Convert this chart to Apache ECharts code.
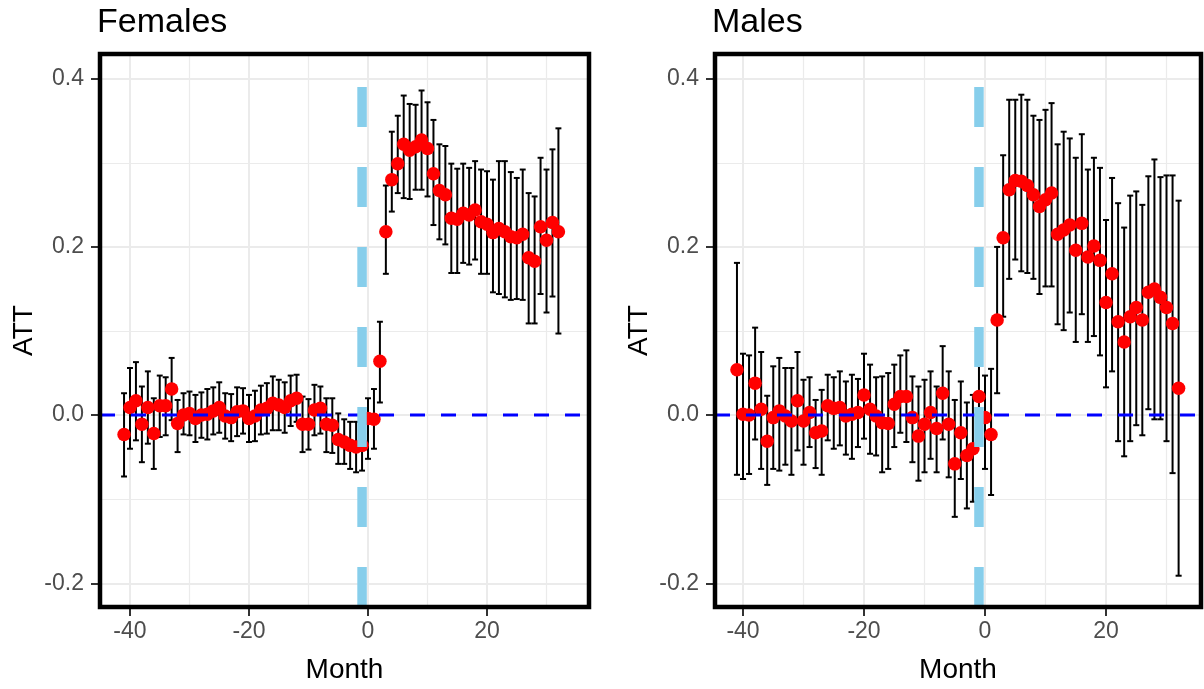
<!DOCTYPE html>
<html><head><meta charset="utf-8">
<script src="https://cdn.jsdelivr.net/npm/echarts@6/dist/echarts.min.js"></script>
<style>html,body{margin:0;padding:0;background:#fff}#c{width:1204px;height:689px}</style>
</head><body><div id="c"></div>
<script>
// ---- data ----
const months = [-41,-40,-39,-38,-37,-36,-35,-34,-33,-32,-31,-30,-29,-28,-27,-26,-25,-24,-23,-22,-21,-20,-19,-18,-17,-16,-15,-14,-13,-12,-11,-10,-9,-8,-7,-6,-5,-4,-3,-2,-1,
  0,1,2,3,4,5,6,7,8,9,10,11,12,13,14,15,16,17,18,19,20,21,22,23,24,25,26,27,28,29,30,31,32];

const femEst = [-0.023,0.009,0.017,-0.011,0.009,-0.022,0.011,0.011,0.031,-0.010,0.000,0.002,-0.004,0.000,0.001,0.005,0.009,-0.001,-0.003,0.004,0.005,-0.004,-0.001,0.006,0.008,0.014,0.012,0.009,0.017,0.020,-0.011,-0.011,0.006,0.008,-0.011,-0.012,-0.029,-0.032,-0.036,-0.038,-0.036,
  -0.004,-0.005,0.064,0.218,0.280,0.299,0.322,0.315,0.319,0.327,0.317,0.287,0.267,0.262,0.234,0.233,0.240,0.238,0.244,0.230,0.227,0.217,0.222,0.218,0.212,0.211,0.215,0.187,0.183,0.224,0.208,0.229,0.218];
const femLo = [-0.073,-0.040,-0.030,-0.056,-0.034,-0.064,-0.026,-0.024,-0.006,-0.044,-0.023,-0.024,-0.032,-0.027,-0.029,-0.023,-0.021,-0.028,-0.031,-0.025,-0.022,-0.032,-0.031,-0.023,-0.022,-0.018,-0.018,-0.021,-0.013,-0.008,-0.044,-0.041,-0.024,-0.022,-0.044,-0.045,-0.058,-0.058,-0.064,-0.068,-0.066,
  -0.052,-0.040,0.015,0.168,0.242,0.264,0.258,0.257,0.268,0.268,0.260,0.226,0.209,0.203,0.169,0.169,0.181,0.179,0.185,0.168,0.168,0.146,0.144,0.140,0.137,0.138,0.137,0.109,0.109,0.144,0.122,0.141,0.097];
const femHi = [0.026,0.056,0.063,0.034,0.052,0.020,0.047,0.045,0.068,0.018,0.026,0.028,0.024,0.027,0.031,0.033,0.039,0.026,0.025,0.033,0.032,0.024,0.029,0.035,0.038,0.046,0.042,0.039,0.047,0.048,0.022,0.019,0.036,0.034,0.020,0.020,0.002,-0.005,-0.008,-0.008,-0.006,
  0.020,0.031,0.111,0.273,0.337,0.356,0.380,0.370,0.369,0.386,0.372,0.351,0.322,0.320,0.299,0.293,0.299,0.294,0.302,0.292,0.290,0.280,0.302,0.302,0.289,0.282,0.292,0.264,0.260,0.306,0.292,0.316,0.341];

const maleEst = [0.054,0.001,0.000,0.038,0.007,-0.031,-0.003,0.005,-0.001,-0.007,0.017,-0.007,0.003,-0.021,-0.019,0.011,0.008,0.009,-0.001,0.001,0.003,0.024,0.007,-0.001,-0.009,-0.010,0.013,0.022,0.022,-0.003,-0.025,-0.011,0.003,-0.016,0.026,-0.011,-0.058,-0.021,-0.048,-0.040,0.022,
  -0.003,-0.023,0.113,0.211,0.268,0.279,0.278,0.273,0.262,0.248,0.256,0.264,0.215,0.220,0.226,0.196,0.228,0.188,0.201,0.184,0.134,0.168,0.111,0.087,0.117,0.128,0.113,0.146,0.150,0.140,0.128,0.109,0.032];
const maleLo = [-0.071,-0.076,-0.070,-0.029,-0.064,-0.083,-0.064,-0.066,-0.059,-0.071,-0.042,-0.059,-0.038,-0.063,-0.071,-0.030,-0.040,-0.036,-0.047,-0.052,-0.038,-0.028,-0.046,-0.048,-0.068,-0.064,-0.038,-0.021,-0.032,-0.056,-0.078,-0.068,-0.052,-0.068,-0.029,-0.074,-0.121,-0.076,-0.111,-0.103,-0.025,
  -0.064,-0.095,0.026,0.117,0.162,0.185,0.171,0.169,0.162,0.144,0.153,0.153,0.108,0.101,0.122,0.087,0.120,0.087,0.094,0.071,0.033,0.052,-0.031,-0.049,-0.031,-0.012,-0.024,0.007,-0.005,-0.005,-0.031,-0.069,-0.191];
const maleHi = [0.181,0.073,0.071,0.104,0.075,0.023,0.058,0.068,0.056,0.056,0.075,0.042,0.045,0.018,0.030,0.048,0.045,0.052,0.040,0.048,0.043,0.073,0.060,0.045,0.046,0.050,0.060,0.071,0.077,0.046,0.034,0.042,0.052,0.034,0.082,0.052,0.018,0.040,0.015,0.024,0.068,
  0.047,0.055,0.200,0.309,0.375,0.375,0.381,0.375,0.356,0.351,0.363,0.371,0.322,0.337,0.329,0.306,0.334,0.292,0.306,0.294,0.232,0.282,0.252,0.223,0.261,0.266,0.250,0.284,0.304,0.283,0.285,0.285,0.255];

const panelTitles = ['Females', 'Males'];
const xTicks = [-40, -20, 0, 20];
const yTicks = [-0.2, 0.0, 0.2, 0.4];
const zeroLevel = 0;
const treatMonth = -1;

// ---- layout / style ----
const FONT = '"Liberation Sans", Arial, sans-serif';
const yMin = -0.2282, yMax = 0.4294;
const panels = [
  { title: panelTitles[0], est: femEst, lo: femLo, hi: femHi, left: 100, width: 489, xMin: -45.04, xMax: 37.14, titleLeft: 92 },
  { title: panelTitles[1], est: maleEst, lo: maleLo, hi: maleHi, left: 715, width: 486, xMin: -44.63, xMax: 35.70, titleLeft: 707 }
];
const TOP = 54, HEIGHT = 559;

function near(list, v, eps) { return list.some(t => Math.abs(t - v) < eps); }

const option = {
  animation: false,
  backgroundColor: '#fff',
  title: [], grid: [], xAxis: [], yAxis: [], series: []
};

panels.forEach((p, i) => {
  option.title.push({
    text: p.title, left: p.titleLeft, top: 1,
    textStyle: { fontFamily: FONT, fontSize: 34, fontWeight: 'normal', color: '#000' }
  });
  option.grid.push({
    left: p.left, top: TOP, width: p.width, height: HEIGHT,
    show: true, z: 10, backgroundColor: 'transparent', borderColor: '#000', borderWidth: 4.5
  });
  option.xAxis.push({
    type: 'value', gridIndex: i, min: p.xMin, max: p.xMax, minInterval: 20, maxInterval: 20,
    axisLine: { show: true, onZero: false, lineStyle: { color: '#000', width: 1 } },
    axisTick: { show: true, length: 9, customValues: xTicks, lineStyle: { color: '#333', width: 2 } },
    axisLabel: {
      customValues: xTicks, margin: 13, color: '#4D4D4D', fontSize: 23, fontFamily: FONT,
      formatter: v => near(xTicks, v, 0.01) ? String(Math.round(v)) : ''
    },
    splitLine: { show: true, lineStyle: { color: '#EBEBEB', width: 2 } },
    minorTick: { show: false, splitNumber: 2 },
    minorSplitLine: { show: true, lineStyle: { color: '#EBEBEB', width: 1.2 } },
    name: 'Month', nameLocation: 'middle', nameGap: 49,
    nameTextStyle: { fontFamily: FONT, fontSize: 28, color: '#000' }
  });
  option.yAxis.push({
    type: 'value', gridIndex: i, min: yMin, max: yMax, minInterval: 0.2, maxInterval: 0.2,
    axisLine: { show: true, onZero: false, lineStyle: { color: '#000', width: 1 } },
    axisTick: { show: true, length: 9, customValues: yTicks, lineStyle: { color: '#333', width: 2 } },
    axisLabel: {
      customValues: yTicks, margin: 16, color: '#4D4D4D', fontSize: 23, fontFamily: FONT,
      formatter: v => near(yTicks, v, 0.001) ? (Math.round(v * 10) / 10).toFixed(1) : ''
    },
    splitLine: { show: true, lineStyle: { color: '#EBEBEB', width: 2 } },
    minorTick: { show: false, splitNumber: 2 },
    minorSplitLine: { show: true, lineStyle: { color: '#EBEBEB', width: 1.2 } },
    name: 'ATT', nameLocation: 'middle', nameRotate: 90, nameGap: 62,
    nameTextStyle: { fontFamily: FONT, fontSize: 28, color: '#000' }
  });

  // error bars
  option.series.push({
    type: 'custom', xAxisIndex: i, yAxisIndex: i, z: 2, clip: true,
    data: months.map((m, k) => [m, p.lo[k], p.hi[k]]),
    encode: { x: 0, y: [1, 2] },
    renderItem: function (params, api) {
      const x = api.value(0);
      const a = api.coord([x, api.value(1)]);
      const b = api.coord([x, api.value(2)]);
      const hw = api.size([1.0, 0])[0] / 2;
      const st = { stroke: '#000', lineWidth: 2, fill: null };
      return { type: 'group', children: [
        { type: 'line', shape: { x1: a[0], y1: a[1], x2: b[0], y2: b[1] }, style: st },
        { type: 'line', shape: { x1: a[0] - hw, y1: a[1], x2: a[0] + hw, y2: a[1] }, style: st },
        { type: 'line', shape: { x1: b[0] - hw, y1: b[1], x2: b[0] + hw, y2: b[1] }, style: st }
      ]};
    }
  });
  // points
  option.series.push({
    type: 'scatter', xAxisIndex: i, yAxisIndex: i, z: 3,
    symbol: 'circle', symbolSize: 13.5,
    itemStyle: { color: '#FF0000', opacity: 1 },
    data: months.map((m, k) => [m, p.est[k]])
  });
  // horizontal zero line
  option.series.push({
    type: 'line', xAxisIndex: i, yAxisIndex: i, z: 4, symbol: 'none', silent: true,
    lineStyle: { color: '#0000FF', width: 3, type: [15, 16] },
    data: [[p.xMin, zeroLevel], [p.xMax, zeroLevel]]
  });
  // vertical treatment line (drawn from bottom up)
  option.series.push({
    type: 'line', xAxisIndex: i, yAxisIndex: i, z: 5, symbol: 'none', silent: true,
    lineStyle: { color: '#87CEEB', width: 9.5, type: [40, 40] },
    data: [[treatMonth, yMin], [treatMonth, yMax]]
  });
});

const chart = echarts.init(document.getElementById('c'), null, { renderer: 'canvas' });
chart.setOption(option);
</script>
</body></html>
